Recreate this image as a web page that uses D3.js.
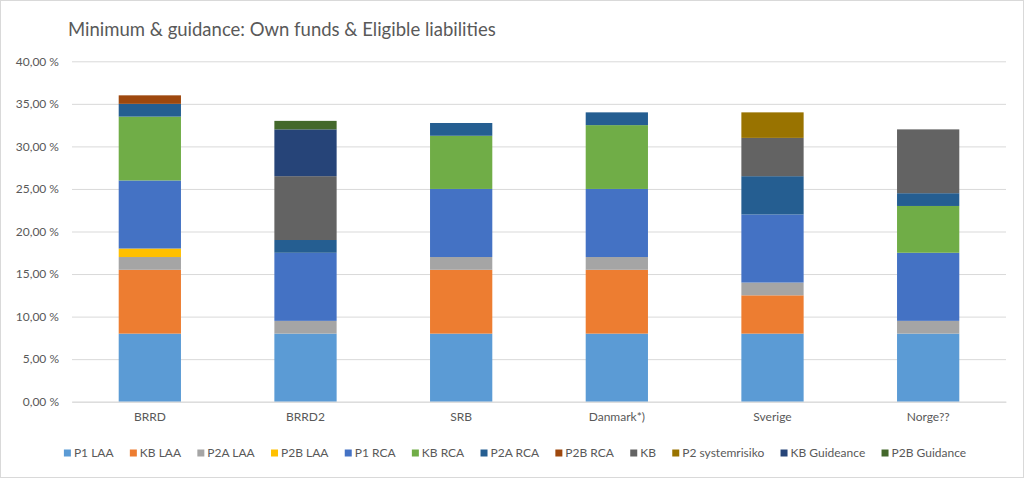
<!DOCTYPE html>
<html><head><meta charset="utf-8">
<script src="https://cdn.jsdelivr.net/npm/d3@7"></script>
<style>body{margin:0;background:#fff}svg{display:block;font-family:Lato,"Open Sans",sans-serif}</style>
</head><body><svg id="c" width="1024" height="478"></svg>
<script>
const categories = ["BRRD","BRRD2","SRB","Danmark*)","Sverige","Norge??"];
const seriesNames = ["P1 LAA","KB LAA","P2A LAA","P2B LAA","P1 RCA","KB RCA","P2A RCA","P2B RCA","KB","P2 systemrisiko","KB Guideance","P2B Guidance"];
const seriesColors = ["#5B9BD5","#ED7D31","#A5A5A5","#FFC000","#4472C4","#70AD47","#255E91","#9E480E","#636363","#997300","#264478","#43682B"];
const P1_LAA   = [8, 8, 8, 8, 8, 8];
const KB_LAA   = [7.5, 0, 7.5, 7.5, 4.5, 0];
const P2A_LAA  = [1.5, 1.5, 1.5, 1.5, 1.5, 1.5];
const P2B_LAA  = [1, 0, 0, 0, 0, 0];
const P1_RCA   = [8, 8, 8, 8, 8, 8];
const KB_RCA   = [7.5, 0, 6.25, 7.5, 0, 5.5];
const P2A_RCA  = [1.5, 1.5, 1.5, 1.5, 4.5, 1.5];
const P2B_RCA  = [1, 0, 0, 0, 0, 0];
const KB       = [0, 7.5, 0, 0, 4.5, 7.5];
const P2_SYS   = [0, 0, 0, 0, 3, 0];
const KB_GUIDE = [0, 5.5, 0, 0, 0, 0];
const P2B_GUIDE= [0, 1, 0, 0, 0, 0];
const yTicks = [0,5,10,15,20,25,30,35,40];

const seriesValues = [P1_LAA,KB_LAA,P2A_LAA,P2B_LAA,P1_RCA,KB_RCA,P2A_RCA,P2B_RCA,KB,P2_SYS,KB_GUIDE,P2B_GUIDE];
const rows = categories.map((c,i)=>{const r={cat:c};seriesNames.forEach((s,j)=>r[s]=seriesValues[j][i]);return r;});
const stacked = d3.stack().keys(seriesNames)(rows);

const svg = d3.select("#c");
svg.append("rect").attr("x",0.5).attr("y",0.5).attr("width",1023).attr("height",477).attr("fill","#fff").attr("stroke","#D9D9D9");

const m = {l:72, r:1006, t:61.3, b:401.7};
const x = d3.scaleBand().domain(categories).range([m.l,m.r]).paddingInner(0.6).paddingOuter(0.3);
const y = d3.scaleLinear().domain([0,40]).range([m.b,m.t]);

svg.append("text").attr("x",68).attr("y",36).attr("font-size",18.5).attr("fill","#595959").text("Minimum & guidance: Own funds & Eligible liabilities");

const ya = svg.append("g").attr("transform",`translate(${m.l},0)`)
  .call(d3.axisLeft(y).tickValues(yTicks).tickSize(-(m.r-m.l)).tickPadding(13)
  .tickFormat(d=>d3.format(".2f")(d).replace(".",",")+" %"));
ya.select(".domain").remove();
ya.selectAll("line").attr("stroke","#D9D9D9");
ya.selectAll("text").attr("fill","#595959").attr("font-size",12).attr("font-family","Lato,sans-serif");

svg.append("g").selectAll("g").data(stacked).join("g").attr("fill",(d,i)=>seriesColors[i])
  .selectAll("rect").data(d=>d).join("rect")
  .attr("x",d=>x(d.data.cat)).attr("width",x.bandwidth())
  .attr("y",d=>y(d[1])).attr("height",d=>y(d[0])-y(d[1]));

const xa = svg.append("g").attr("transform",`translate(0,${m.b})`).call(d3.axisBottom(x).tickSize(0).tickPadding(11));
xa.select(".domain").attr("stroke","#D9D9D9");
xa.selectAll("text").attr("fill","#595959").attr("font-size",12).attr("font-family","Lato,sans-serif");

// legend
const lg = svg.append("g");
let cx = 0;
const gap = 16.3;
seriesNames.forEach((s,i)=>{
  const g = lg.append("g").attr("transform",`translate(${cx},0)`);
  g.append("rect").attr("x",0).attr("y",-7.5).attr("width",7).attr("height",7).attr("fill",seriesColors[i]);
  const t = g.append("text").attr("x",10).attr("y",0).attr("font-size",12).attr("fill","#595959").text(s);
  cx += 10 + t.node().getComputedTextLength() + gap;
});
cx -= gap;
lg.attr("transform",`translate(${(1024-cx)/2+3},457)`);
</script></body></html>
